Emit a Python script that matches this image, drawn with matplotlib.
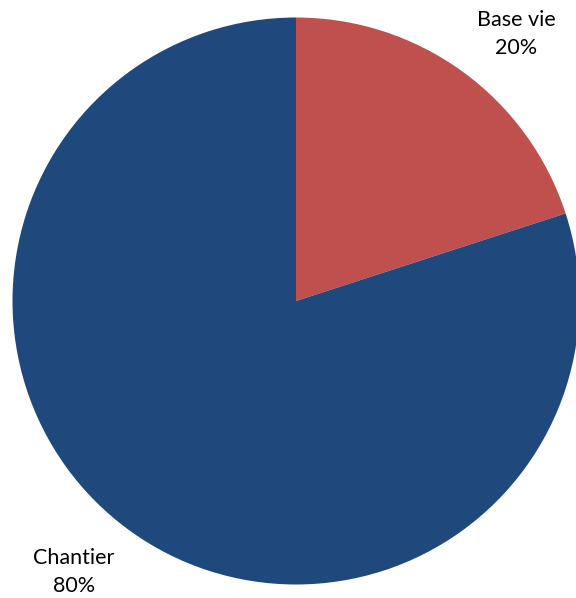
import matplotlib.pyplot as plt

# data
categories = ["Base vie", "Chantier"]
shares = [20, 80]
colors = ["#C0504D", "#1F497D"]

W, H = 576, 598
fig = plt.figure(figsize=(W / 100, H / 100), dpi=100)
ax = fig.add_axes([0, 0, 1, 1])

# pie in pixel coordinates (y measured from bottom)
cx, cy, r = 296, H - 301, 283.5
ax.pie(shares, colors=colors, startangle=90, counterclock=False,
       center=(cx, cy), radius=r, frame=True,
       wedgeprops=dict(linewidth=0))

ax.set_xlim(0, W)
ax.set_ylim(0, H)
ax.set_aspect("equal")
ax.axis("off")

# labels, placed like the Excel outside labels
label_pos = [(516, H - 34), (74, H - 572)]
for name, val, (x, y) in zip(categories, shares, label_pos):
    ax.text(x, y, f"{name}\n{val}%", ha="center", va="center",
            fontsize=15.5, family=["Lato", "DejaVu Sans"], linespacing=1.45,
            color="black")

fig.savefig("out.png", dpi=100)
